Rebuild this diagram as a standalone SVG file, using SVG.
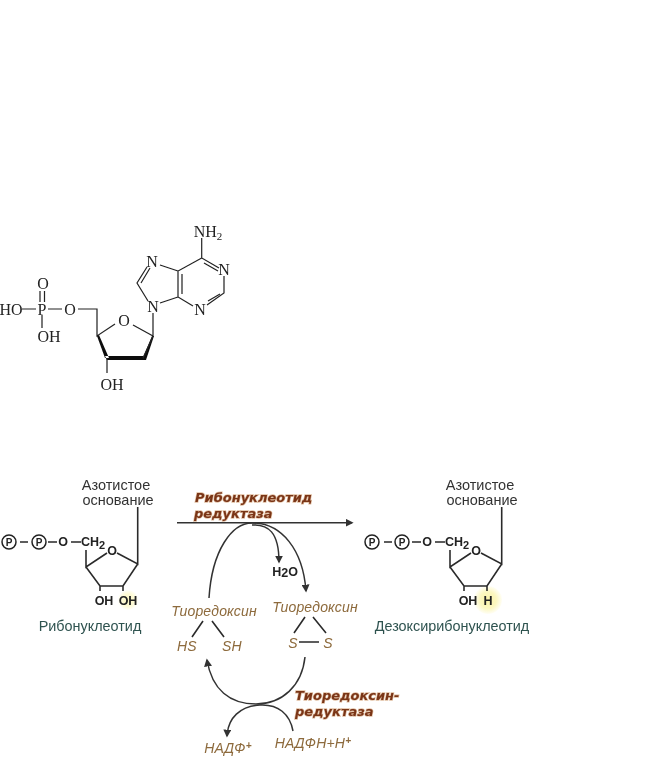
<svg xmlns="http://www.w3.org/2000/svg" width="658" height="758" viewBox="0 0 658 758">
<style>
.b{fill:none;stroke:#222;stroke-width:1.2}
.t{font-family:"Liberation Serif",serif;font-size:16px;fill:#222;text-anchor:middle}
.s{font-size:11px}
.k{fill:none;stroke:#2a2a2a;stroke-width:1.6}
.c{fill:none;stroke:#333;stroke-width:1.5}
.l{font-family:"Liberation Sans",sans-serif;font-size:14.5px;fill:#333;text-anchor:middle}
.a{font-family:"Liberation Sans",sans-serif;font-size:12.5px;font-weight:bold;fill:#222;text-anchor:middle}
.g{font-family:"Liberation Sans",sans-serif;font-size:14.4px;fill:#2f5350;text-anchor:middle}
.e{font-family:"DejaVu Sans",sans-serif;font-size:13px;font-weight:bold;font-style:italic;fill:#7a3418;paint-order:stroke;stroke:#e0bfa2;stroke-width:1.3px}
.h{font-family:"Liberation Sans",sans-serif;font-size:14px;font-style:italic;fill:#8d6a3c;text-anchor:middle;letter-spacing:.2px}
.p{fill:#fff;stroke:#222;stroke-width:1.5}
.pt{font-family:"Liberation Sans",sans-serif;font-size:10px;font-weight:bold;fill:#222;text-anchor:middle}
</style>
<defs>
<marker id="am" viewBox="0 0 10 10" refX="8" refY="5" markerWidth="8" markerHeight="8" orient="auto" markerUnits="userSpaceOnUse"><path d="M0 0L10 5L0 10z" fill="#333"/></marker>
<radialGradient id="y"><stop offset="0" stop-color="#fbf3a8"/><stop offset=".6" stop-color="#fcf7c0"/><stop offset="1" stop-color="#fffef5"/></radialGradient>
<filter id="soft" x="0" y="0" width="100%" height="100%"><feGaussianBlur stdDeviation="0.4"/></filter>
</defs>
<g filter="url(#soft)">
<g id="adenosine-monophosphate">
<path class="b" d="M201.700 238V258L219 268M224 276V293L207 305M193 306L178 297V271L201.700 258M204 263L218 271M208 301L220 294M182 294V274M178 271L160 265M147 267L137 283L148 301M150 268L141 283M160 303L178 297M153 313V336L133 325M115 324L97 336V309H78M62 309H48M36 309H22M42 315V328M40 291V302M44.500 291V302"/>
<path d="M97 336L105 358H109L99 335zM105 356H143V360H107zM142 360L152 336H154L146 360z" fill="#111"/>
<path class="b" d="M143 358L153 336M107 358V373"/>
<text class="t" x="208" y="237">NH<tspan class="s" dy="3">2</tspan></text>
<text class="t" x="152" y="267">N</text><text class="t" x="224" y="275">N</text><text class="t" x="200" y="315">N</text><text class="t" x="153" y="312">N</text>
<text class="t" x="124" y="326">O</text><text class="t" x="70" y="315">O</text><text class="t" x="42" y="315">P</text>
<text class="t" x="11" y="315">HO</text><text class="t" x="43" y="289">O</text><text class="t" x="49" y="342">OH</text><text class="t" x="112" y="390">OH</text>
</g>

<g id="ribonucleotide">
<circle cx="128" cy="600" r="10" fill="url(#y)" opacity=".7"/>
<text class="l" x="116" y="490">Азотистое</text><text class="l" x="118" y="505">основание</text>
<circle class="p" cx="9" cy="542" r="7"/><text class="pt" x="9" y="546">P</text>
<circle class="p" cx="39" cy="542" r="7"/><text class="pt" x="39" y="546">P</text>
<path class="k" d="M20 542H28M48 542H57M71 542H81M137.700 507V564L117 553M107 553L86 567V550M86 567L100 586H123L137.700 564M100 586V591M123 586V591"/>
<text class="a" x="63" y="546">O</text><text class="a" x="93" y="546">CH<tspan font-size="11" dy="3">2</tspan></text><text class="a" x="112" y="555">O</text>
<text class="a" x="104" y="605">OH</text><text class="a" x="128" y="605">OH</text>
<text class="g" x="90" y="631">Рибонуклеотид</text>
</g>

<g id="deoxyribonucleotide">
<circle cx="488" cy="600" r="14" fill="url(#y)"/>
<text class="l" x="480" y="490">Азотистое</text><text class="l" x="482" y="505">основание</text>
<circle class="p" cx="372" cy="542" r="7"/><text class="pt" x="372" y="546">P</text>
<circle class="p" cx="402" cy="542" r="7"/><text class="pt" x="402" y="546">P</text>
<path class="k" d="M384 542H392M412 542H421M435 542H445M501.700 507V564L481 553M471 553L450 567V550M450 567L464 586H487L501.700 564M464 586V591M487 586V591"/>
<text class="a" x="427" y="546">O</text><text class="a" x="457" y="546">CH<tspan font-size="11" dy="3">2</tspan></text><text class="a" x="476" y="555">O</text>
<text class="a" x="468" y="605">OH</text><text class="a" x="488" y="605">H</text>
<text class="g" x="452" y="631">Дезоксирибонуклеотид</text>
</g>

<g id="connectors">
<path class="c" d="M177 522.700H352" marker-end="url(#am)"/>
<path class="c" d="M209 598C212 550 232 523 252 523C282 523 303 550 306 591" marker-end="url(#am)"/>
<path class="c" d="M252 525C268 524 279 532 279 562" marker-end="url(#am)"/>
<path class="c" d="M305 657C302 686 282 704 256 704C230 704 212 690 207 660" marker-end="url(#am)"/>
<path class="c" d="M293 731C290 714 278 704 260 705C240 706 228 718 227 736" marker-end="url(#am)"/>
</g>

<g id="ribonucleotide-reductase"><text class="e" x="195" y="502">Рибонуклеотид</text><text class="e" x="194" y="517.500">редуктаза</text></g>
<g id="water"><text class="a" x="285" y="576">H<tspan dy="1">2</tspan><tspan dy="-1">O</tspan></text></g>

<g id="thioredoxin-reduced">
<text class="h" x="214" y="616">Тиоредоксин</text>
<path class="k" d="M203 621L192 637M212 621L224 637"/>
<text class="h" x="187" y="651">HS</text><text class="h" x="232" y="651">SH</text>
</g>
<g id="thioredoxin-oxidized">
<text class="h" x="315" y="612">Тиоредоксин</text>
<path class="k" d="M305 617L294 633M313 617L326 633M299 642H319"/>
<text class="h" x="293" y="648">S</text><text class="h" x="328" y="648">S</text>
</g>
<g id="thioredoxin-reductase"><text class="e" x="295" y="700">Тиоредоксин-</text><text class="e" x="295" y="715.500">редуктаза</text></g>
<g id="nadp"><text class="h" x="228" y="753">НАДФ<tspan font-size="10" font-weight="bold" dy="-4">+</tspan></text></g>
<g id="nadph"><text class="h" x="313" y="748">НАДФН+Н<tspan font-size="10" font-weight="bold" dy="-4">+</tspan></text></g>
</g>
</svg>
